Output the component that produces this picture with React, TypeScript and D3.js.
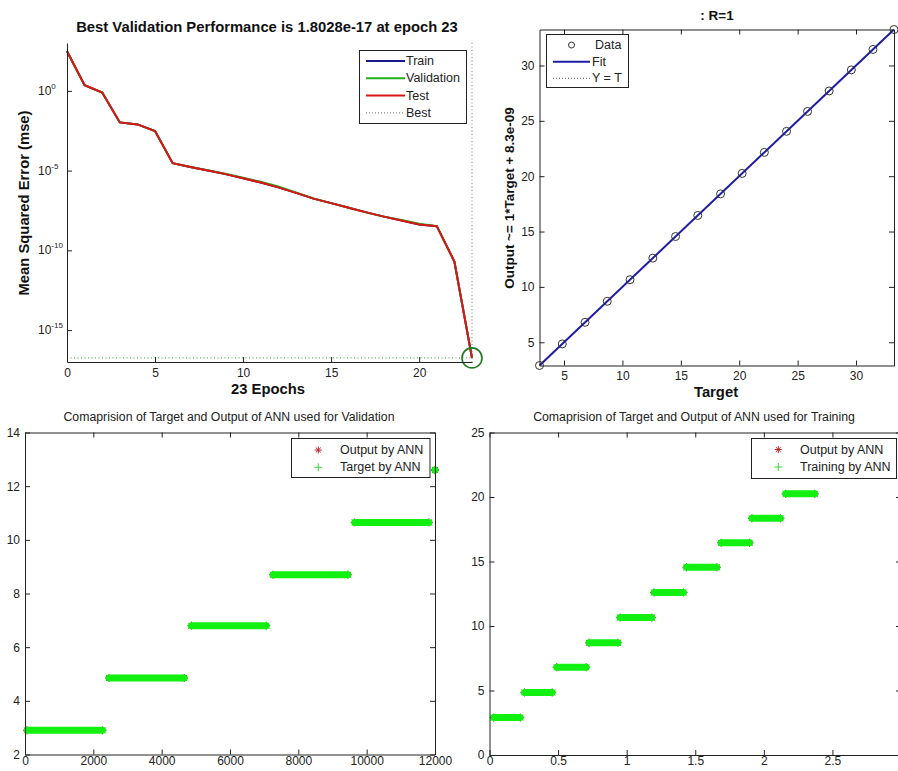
import React, { useRef, useEffect } from 'react';
import * as d3 from 'd3';

const FONT = '"Liberation Sans", Arial, Helvetica, sans-serif';
const INK = '#222';

// ---- performance plot (mse per epoch)
const epochs = [0, 1, 2, 3, 4, 5, 6, 7, 8, 9, 10, 11, 12, 13, 14, 15, 16, 17, 18, 19, 20, 21, 22, 23];
const perfTrain = [302, 2.29, 0.79, 1.05e-2, 7.9e-3, 3.0e-3, 2.9e-5, 1.66e-5, 1.0e-5, 6.0e-6, 3.3e-6, 1.8e-6, 8.9e-7, 4.0e-7, 1.74e-7, 9.1e-8, 4.7e-8, 2.4e-8, 1.3e-8, 7.4e-9, 4.2e-9, 3.3e-9, 2.0e-11, 1.8028e-17];
const perfVal = [302, 2.29, 0.79, 1.05e-2, 7.9e-3, 3.0e-3, 2.9e-5, 1.7e-5, 1.05e-5, 6.3e-6, 3.6e-6, 2.0e-6, 1.0e-6, 4.3e-7, 1.8e-7, 9.1e-8, 4.7e-8, 2.4e-8, 1.3e-8, 7.9e-9, 4.6e-9, 3.3e-9, 2.0e-11, 1.8028e-17];
const perfTest = [302, 2.29, 0.79, 1.05e-2, 7.9e-3, 3.0e-3, 2.9e-5, 1.66e-5, 1.0e-5, 6.0e-6, 3.3e-6, 1.8e-6, 8.9e-7, 4.0e-7, 1.74e-7, 9.1e-8, 4.7e-8, 2.4e-8, 1.3e-8, 7.4e-9, 4.2e-9, 3.3e-9, 2.0e-11, 1.8028e-17];
const bestEpoch = 23;
const bestPerf = 1.8028e-17;
const perfYTicks = [1e-15, 1e-10, 1e-5, 1];
const perfYTickExp = ['-15', '-10', '-5', '0'];
const perfXTicks = [0, 5, 10, 15, 20];

// ---- regression plot
const regTargets = [2.9, 4.85, 6.8, 8.7, 10.65, 12.6, 14.55, 16.45, 18.4, 20.25, 22.15, 24.05, 25.85, 27.7, 29.6, 31.45, 33.25];
const regOutputs = [2.9, 4.85, 6.8, 8.7, 10.65, 12.6, 14.55, 16.45, 18.4, 20.25, 22.15, 24.05, 25.85, 27.7, 29.6, 31.45, 33.25];
const fitSlope = 1;
const fitOffset = 8.3e-9;
const regTicks = [5, 10, 15, 20, 25, 30];

// ---- validation comparison (sample index ranges per target level)
const valLevels = [2.9, 4.85, 6.8, 8.7, 10.65, 12.6];
const valStart = [60, 2460, 4870, 7260, 9650, 12000];
const valEnd = [2270, 4660, 7060, 9450, 11820, 12000];
const valXTicks = [0, 2000, 4000, 6000, 8000, 10000, 12000];
const valYTicks = [2, 4, 6, 8, 10, 12, 14];

// ---- training comparison
const trnLevels = [2.9, 4.85, 6.8, 8.7, 10.65, 12.6, 14.55, 16.45, 18.35, 20.25];
const trnStart = [0.03, 0.255, 0.49, 0.726, 0.952, 1.2, 1.436, 1.689, 1.913, 2.159];
const trnEnd = [0.224, 0.457, 0.705, 0.936, 1.184, 1.414, 1.657, 1.896, 2.121, 2.371];
const trnXTicks = [0, 0.5, 1, 1.5, 2, 2.5, 3];
const trnYTicks = [0, 5, 10, 15, 20, 25];

function star(g: any, x: number, y: number, r: number, color: string) {
  const p = d3.path();
  p.moveTo(x - r, y); p.lineTo(x + r, y);
  p.moveTo(x, y - r); p.lineTo(x, y + r);
  const d = r * 0.7;
  p.moveTo(x - d, y - d); p.lineTo(x + d, y + d);
  p.moveTo(x - d, y + d); p.lineTo(x + d, y - d);
  g.append('path').attr('d', p.toString()).attr('stroke', color).attr('stroke-width', 1).attr('fill', 'none');
}

function plus(g: any, x: number, y: number, r: number, color: string) {
  const p = d3.path();
  p.moveTo(x - r, y); p.lineTo(x + r, y);
  p.moveTo(x, y - r); p.lineTo(x, y + r);
  g.append('path').attr('d', p.toString()).attr('stroke', color).attr('stroke-width', 1).attr('fill', 'none');
}

// boxed matlab-style axes with inward ticks
function boxAxes(svg: any, x: any, y: any, xt: number[], yt: number[], fmtX: any, fmtY: any, padX = 6) {
  const [x0, x1] = x.range();
  const [y0, y1] = y.range();
  const g = svg.append('g');
  const style = (sel: any) => {
    sel.select('.domain').attr('stroke', INK);
    sel.selectAll('line').attr('stroke', INK);
    sel.selectAll('text').attr('font-family', FONT).attr('font-size', 12).attr('fill', INK);
  };
  g.append('g').attr('transform', `translate(0,${y0})`)
    .call(d3.axisBottom(x).tickValues(xt).tickFormat(fmtX).tickSizeInner(-5).tickSizeOuter(0).tickPadding(padX)).call(style);
  g.append('g').attr('transform', `translate(0,${y1})`)
    .call(d3.axisTop(x).tickValues(xt).tickFormat(() => '').tickSizeInner(-5).tickSizeOuter(0)).call(style);
  g.append('g').attr('transform', `translate(${x0},0)`)
    .call(d3.axisLeft(y).tickValues(yt).tickFormat(fmtY).tickSizeInner(-5).tickSizeOuter(0).tickPadding(5)).call(style);
  g.append('g').attr('transform', `translate(${x1},0)`)
    .call(d3.axisRight(y).tickValues(yt).tickFormat(() => '').tickSizeInner(-5).tickSizeOuter(0)).call(style);
}

function bands(svg: any, x: any, y: any, levels: number[], starts: number[], ends: number[]) {
  const g = svg.append('g');
  levels.forEach((lv, i) => {
    const xa = x(starts[i]), xb = x(ends[i]), yy = y(lv);
    star(g, xa, yy, 4, '#5a3a1a');
    star(g, xb, yy, 4, '#5a3a1a');
  });
  g.selectAll('line.band').data(levels).enter().append('line')
    .attr('x1', (_d: number, i: number) => x(starts[i]))
    .attr('x2', (_d: number, i: number) => x(ends[i]))
    .attr('y1', (d: number) => y(d)).attr('y2', (d: number) => y(d))
    .attr('stroke', '#12f012').attr('stroke-width', 7).attr('stroke-linecap', 'round');
}

function legendBox(svg: any, x: number, y: number, w: number, h: number) {
  return svg.append('rect').attr('x', x).attr('y', y).attr('width', w).attr('height', h)
    .attr('fill', 'white').attr('stroke', INK).attr('stroke-width', 1);
}

function text(svg: any, x: number, y: number, s: string, size: number, opts: any = {}) {
  const t = svg.append('text').attr('x', x).attr('y', y).text(s)
    .attr('font-family', FONT).attr('font-size', size).attr('fill', opts.fill || INK)
    .attr('text-anchor', opts.anchor || 'middle').attr('dominant-baseline', 'central');
  if (opts.bold) t.attr('font-weight', 'bold');
  if (opts.rotate) t.attr('transform', `rotate(-90,${x},${y})`);
  return t;
}

function App() {
  const ref = useRef<SVGSVGElement | null>(null);

  useEffect(() => {
    const svg = d3.select(ref.current);
    svg.selectAll('*').remove();
    svg.append('rect').attr('width', 898).attr('height', 771).attr('fill', 'white');

    // ================= performance =================
    const px = d3.scaleLinear().domain([0, 23]).range([67, 472]);
    const py = d3.scaleLog().domain([1e-17, 1e3]).range([362, 43]);
    const pg = svg.append('g');
    // best lines
    pg.append('line').attr('x1', px(0)).attr('x2', px(bestEpoch)).attr('y1', py(bestPerf)).attr('y2', py(bestPerf))
      .attr('stroke', '#3a9a3a').attr('stroke-dasharray', '1,2.5').attr('stroke-width', 1);
    pg.append('line').attr('x1', px(bestEpoch)).attr('x2', px(bestEpoch)).attr('y1', py(1e3)).attr('y2', py(1e-17))
      .attr('stroke', '#6a8a6a').attr('stroke-dasharray', '1,2.5').attr('stroke-width', 1);
    const line = d3.line<number>().x((_d, i) => px(epochs[i])).y((d) => py(d));
    pg.append('path').attr('d', line(perfTrain)).attr('fill', 'none').attr('stroke', '#1a1a90').attr('stroke-width', 2);
    pg.append('path').attr('d', line(perfVal)).attr('fill', 'none').attr('stroke', '#22b022').attr('stroke-width', 2);
    pg.append('path').attr('d', line(perfTest)).attr('fill', 'none').attr('stroke', '#dc1414').attr('stroke-width', 2);
    pg.append('circle').attr('cx', px(bestEpoch)).attr('cy', py(bestPerf)).attr('r', 10)
      .attr('fill', 'none').attr('stroke', '#1f7a1f').attr('stroke-width', 1.6);
    // axes (left + bottom only)
    const pxAx = pg.append('g').attr('transform', 'translate(0,362)')
      .call(d3.axisBottom(px).tickValues(perfXTicks).tickFormat(d3.format('d')).tickSizeInner(-5).tickSizeOuter(0).tickPadding(6));
    pxAx.select('.domain').attr('stroke', INK);
    pxAx.selectAll('line').attr('stroke', INK);
    pxAx.selectAll('text').attr('font-family', FONT).attr('font-size', 12).attr('fill', INK);
    const pyAx = pg.append('g').attr('transform', 'translate(67,0)')
      .call(d3.axisLeft(py).tickValues(perfYTicks).tickFormat(() => '').tickSizeInner(-5).tickSizeOuter(0));
    pyAx.select('.domain').attr('stroke', INK);
    pyAx.selectAll('line').attr('stroke', INK);
    perfYTicks.forEach((v, i) => {
      const t = pg.append('text').attr('x', 38).attr('y', py(v) + 4)
        .attr('font-family', FONT).attr('font-size', 12).attr('fill', INK);
      t.append('tspan').text('10');
      t.append('tspan').attr('dy', -6).attr('font-size', 8).text(perfYTickExp[i]);
    });
    text(pg, 267, 27, 'Best Validation Performance is 1.8028e-17 at epoch 23', 14.8, { bold: true, fill: '#111' });
    text(pg, 268, 389, '23 Epochs', 14.8, { bold: true, fill: '#111' });
    text(pg, 24, 203, 'Mean Squared Error  (mse)', 14.8, { bold: true, fill: '#111', rotate: true });
    // legend
    legendBox(pg, 359.5, 50.5, 107, 73);
    const perfLeg = [
      { name: 'Train', color: '#1a1a90', dash: null },
      { name: 'Validation', color: '#22b022', dash: null },
      { name: 'Test', color: '#dc1414', dash: null },
      { name: 'Best', color: '#666', dash: '1,2' },
    ];
    perfLeg.forEach((e, i) => {
      const yy = 61 + i * 17.3;
      const l = pg.append('line').attr('x1', 366).attr('x2', 405).attr('y1', yy).attr('y2', yy)
        .attr('stroke', e.color).attr('stroke-width', e.dash ? 1 : 2);
      if (e.dash) l.attr('stroke-dasharray', e.dash);
      text(pg, 406, yy, e.name, 12.5, { anchor: 'start' });
    });

    // ================= regression =================
    const rx = d3.scaleLinear().domain([2.9, 33.25]).range([539.5, 894]);
    const ry = d3.scaleLinear().domain([2.9, 33.25]).range([365.5, 29.5]);
    const rg = svg.append('g');
    rg.append('line').attr('x1', rx(2.9)).attr('x2', rx(33.25)).attr('y1', ry(2.9)).attr('y2', ry(33.25))
      .attr('stroke', '#444').attr('stroke-dasharray', '1,2');
    rg.append('line').attr('x1', rx(2.9)).attr('x2', rx(33.25))
      .attr('y1', ry(fitSlope * 2.9 + fitOffset)).attr('y2', ry(fitSlope * 33.25 + fitOffset))
      .attr('stroke', '#1c1ca8').attr('stroke-width', 2);
    rg.selectAll('circle.pt').data(regTargets).enter().append('circle')
      .attr('cx', (d: number) => rx(d)).attr('cy', (_d: number, i: number) => ry(regOutputs[i])).attr('r', 4)
      .attr('fill', 'none').attr('stroke', '#333').attr('stroke-width', 1);
    boxAxes(rg, rx, ry, regTicks, regTicks, d3.format('d'), d3.format('d'));
    text(rg, 717, 15, ': R=1', 13.5, { bold: true, fill: '#111' });
    text(rg, 716, 392, 'Target', 14.8, { bold: true, fill: '#111' });
    text(rg, 509, 198, 'Output ~= 1*Target + 8.3e-09', 13.5, { bold: true, fill: '#111', rotate: true });
    legendBox(rg, 546.5, 34.5, 82, 53);
    rg.append('circle').attr('cx', 571.5).attr('cy', 45).attr('r', 3).attr('fill', 'none').attr('stroke', '#333');
    text(rg, 595, 45, 'Data', 12.5, { anchor: 'start' });
    rg.append('line').attr('x1', 553).attr('x2', 590).attr('y1', 61.7).attr('y2', 61.7).attr('stroke', '#1c1ca8').attr('stroke-width', 2);
    text(rg, 592, 61.7, 'Fit', 12.5, { anchor: 'start' });
    rg.append('line').attr('x1', 553).attr('x2', 590).attr('y1', 78.3).attr('y2', 78.3).attr('stroke', '#555').attr('stroke-dasharray', '1,2');
    text(rg, 592, 78.3, 'Y = T', 12.5, { anchor: 'start' });

    // ================= validation comparison =================
    const vx = d3.scaleLinear().domain([0, 12000]).range([25, 435]);
    const vy = d3.scaleLinear().domain([2, 14]).range([754.5, 432.5]);
    const vg = svg.append('g');
    bands(vg, vx, vy, valLevels, valStart, valEnd);
    boxAxes(vg, vx, vy, valXTicks, valYTicks, d3.format('d'), d3.format('d'), 1.5);
    text(vg, 229, 417, 'Comaprision of Target and Output of ANN used for Validation', 12.3);
    legendBox(vg, 291.5, 438.5, 138.5, 39);
    star(vg, 318.3, 450, 3.5, '#c0262b');
    text(vg, 340, 450, 'Output by ANN', 12.5, { anchor: 'start' });
    plus(vg, 318.3, 467.3, 4, '#3ad83a');
    text(vg, 340, 467.3, 'Target by ANN', 12.5, { anchor: 'start' });

    // ================= training comparison =================
    const tx = d3.scaleLinear().domain([0, 3]).range([489.5, 901]);
    const ty = d3.scaleLinear().domain([0, 25]).range([755, 432.5]);
    const tg = svg.append('g');
    bands(tg, tx, ty, trnLevels, trnStart, trnEnd);
    // the last x label (3) falls outside the picture, only its tick shows
    boxAxes(tg, tx, ty, trnXTicks, trnYTicks, (d: number) => (d < 3 ? String(d) : ''), d3.format('d'), 1.5);
    text(tg, 694, 417, 'Comaprision of Target and Output of ANN used for Training', 12.3);
    legendBox(tg, 751.5, 438.5, 145, 40);
    star(tg, 778.3, 449.5, 3.5, '#c0262b');
    text(tg, 800, 449.5, 'Output by ANN', 12.5, { anchor: 'start' });
    plus(tg, 778.3, 467, 4, '#3ad83a');
    text(tg, 800, 467, 'Training by ANN', 12.5, { anchor: 'start' });
  }, []);

  return (
    <div style={{ position: 'absolute', left: 0, top: 0 }}>
      <svg ref={ref} width={898} height={771} style={{ display: 'block' }} />
    </div>
  );
}

export default App;
